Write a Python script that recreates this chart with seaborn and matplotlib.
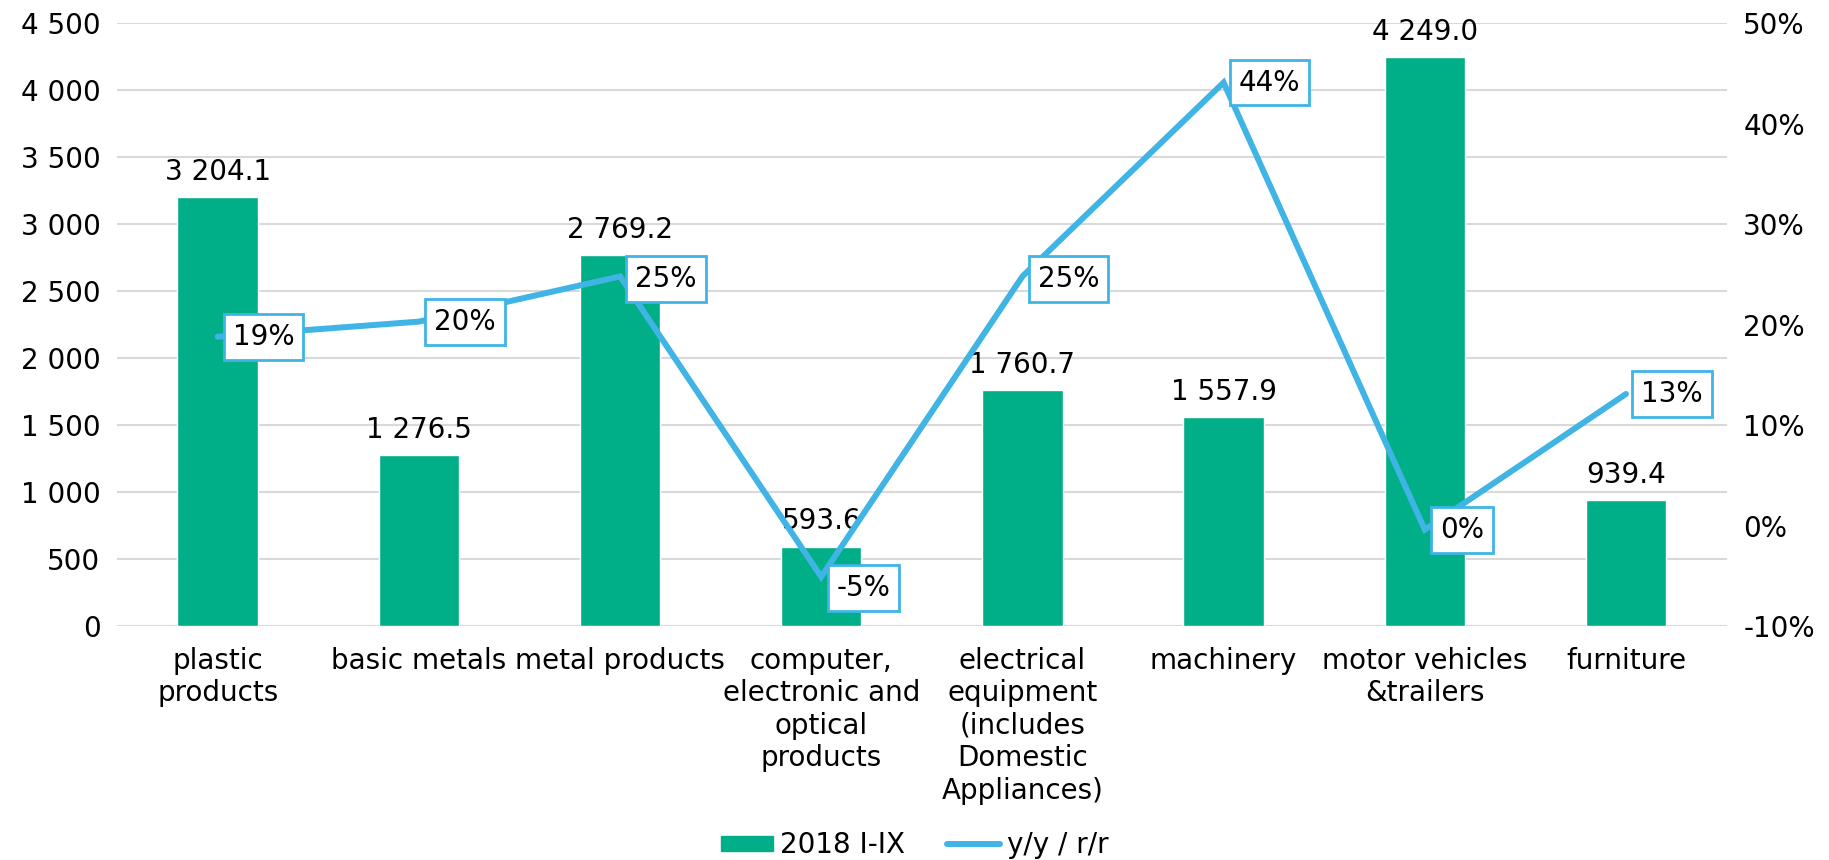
import numpy as np
import pandas as pd
import seaborn as sns
import matplotlib.pyplot as plt
from matplotlib.lines import Line2D
from matplotlib.patches import Patch

# data
categories = ["plastic\nproducts", "basic metals", "metal products",
              "computer,\nelectronic and\noptical\nproducts",
              "electrical\nequipment\n(includes\nDomestic\nAppliances)",
              "machinery", "motor vehicles\n&trailers", "furniture"]
values_2018 = [3204.1, 1276.5, 2769.2, 593.6, 1760.7, 1557.9, 4249.0, 939.4]
yoy = [0.188, 0.203, 0.248, -0.051, 0.248, 0.441, -0.004, 0.131]
yoy_labels = ["19%", "20%", "25%", "-5%", "25%", "44%", "0%", "13%"]

green = "#00AE87"
blue = "#3FB4E5"
fs = 20

sns.set_style("white")
plt.rcParams['font.family'] = ['DejaVu Sans']
plt.rcParams['text.color'] = "black"
plt.rcParams['xtick.color'] = "black"
plt.rcParams['ytick.color'] = "black"

df = pd.DataFrame({"cat": categories, "val": values_2018, "pos": np.arange(len(categories)), "yoy": yoy})

fig = plt.figure(figsize=(18.29, 8.6), dpi=100)
ax = fig.add_axes([0.064, 0.272, 0.88, 0.701])

sns.barplot(data=df, x="cat", y="val", color=green, width=0.4, saturation=1, ax=ax)
ax.set_ylim(0, 4500)
ax.set_yticks(np.arange(0, 4501, 500))
ax.set_yticklabels([f"{v:,}".replace(",", " ") for v in range(0, 4501, 500)], fontsize=fs)
ax.set_xlim(-0.5, 7.5)
ax.set_xlabel("")
ax.set_ylabel("")
ax.tick_params(axis="x", labelsize=fs, length=0, pad=15)
ax.tick_params(axis="y", length=0, pad=12)
ax.yaxis.grid(True, color="#D9D9D9", linewidth=1.5)
ax.set_axisbelow(True)
for s in ax.spines.values():
    s.set_visible(False)

ax.bar_label(ax.containers[0], labels=[f"{v:,.1f}".replace(",", " ") for v in values_2018],
             fontsize=fs, padding=8)

ax2 = ax.twinx()
sns.lineplot(data=df, x="pos", y="yoy", color=blue, linewidth=4.3, ax=ax2,
             solid_capstyle="round", solid_joinstyle="miter")
ax2.set_ylim(-0.1, 0.5)
ax2.set_yticks(np.arange(-0.1, 0.51, 0.1))
ax2.set_yticklabels([f"{int(round(t * 100))}%" for t in np.arange(-0.1, 0.51, 0.1)], fontsize=fs)
ax2.tick_params(axis="y", length=0, pad=12)
ax2.set_ylabel("")
ax2.set_xlabel("")
ax2.set_xlim(-0.5, 7.5)
for s in ax2.spines.values():
    s.set_visible(False)

# label offsets in points (dx, dy)
offsets = [(11, 0), (11, 0), (11, -2), (11, -8), (11, -2), (11, 0), (11, 0), (11, 0)]
for i, (v, lab) in enumerate(zip(yoy, yoy_labels)):
    ax2.annotate(lab, (i, v), xytext=offsets[i], textcoords="offset points",
                 ha="left", va="center", fontsize=fs,
                 bbox=dict(boxstyle="square,pad=0.32", fc="white", ec=blue, lw=2))

handles = [Patch(color=green, label="2018 I-IX"),
           Line2D([0], [0], color=blue, lw=4.3, solid_capstyle="round", label="y/y / r/r")]
fig.legend(handles=handles, loc="center", bbox_to_anchor=(0.5, 0.017), ncol=2,
           frameon=False, fontsize=fs, handlelength=1.9, handleheight=0.5,
           columnspacing=1.5, handletextpad=0.25)

fig.savefig("out.png", dpi=100)
